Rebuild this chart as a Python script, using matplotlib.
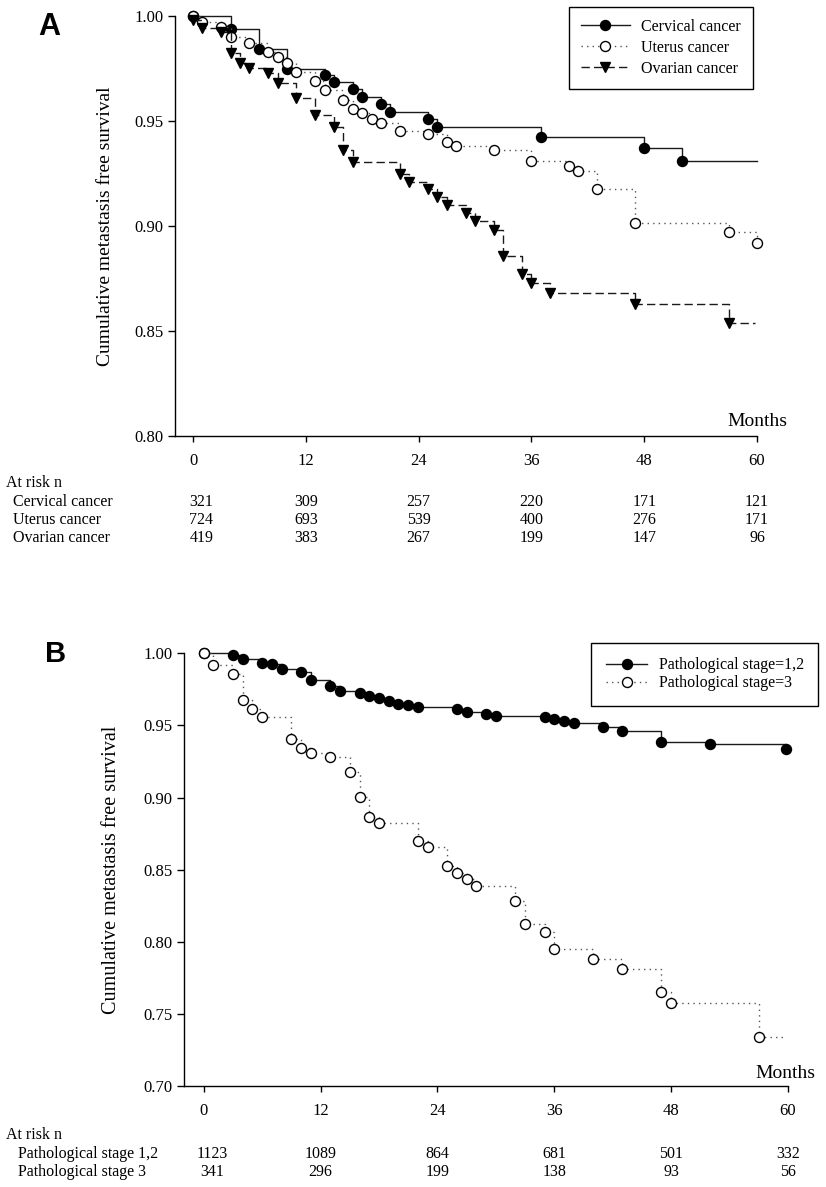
import matplotlib
matplotlib.use("Agg")
import matplotlib.pyplot as plt
from matplotlib import transforms

# -----------------------------
# Data
# -----------------------------
# Panel A: times (months) of the steps and survival after each step
cerv_t = [0, 4, 7, 10, 14, 15, 17, 18, 20, 21, 25, 26, 37, 48, 52]
cerv_s = [1.0, 0.9937, 0.9841, 0.9746, 0.9719, 0.9687, 0.9651, 0.9616,
          0.9581, 0.9541, 0.9510, 0.9471, 0.9422, 0.9370, 0.9310]
cerv_end = 60

uter_t = [0, 1, 3, 4, 6, 8, 9, 10, 11, 13, 14, 16, 17, 18, 19, 20, 22,
          25, 27, 28, 32, 36, 40, 41, 43, 47, 57, 60]
uter_s = [1.0, 0.9973, 0.9949, 0.9902, 0.9873, 0.9830, 0.9806, 0.9775,
          0.9735, 0.9690, 0.9648, 0.9600, 0.9556, 0.9537, 0.9508, 0.9489,
          0.9454, 0.9437, 0.9400, 0.9380, 0.9360, 0.9311, 0.9286, 0.9260,
          0.9175, 0.9016, 0.8970, 0.8918]
uter_end = 60

ovar_t = [0, 1, 3, 4, 5, 6, 8, 9, 11, 13, 15, 16, 17, 22, 23, 25, 26, 27,
          29, 30, 32, 33, 35, 36, 38, 47, 57]
ovar_s = [0.9981, 0.9941, 0.9922, 0.9822, 0.9778, 0.9751, 0.9727, 0.9680,
          0.9608, 0.9529, 0.9473, 0.9362, 0.9306, 0.9247, 0.9211, 0.9175,
          0.9138, 0.9102, 0.9063, 0.9023, 0.8982, 0.8857, 0.8771, 0.8727,
          0.8682, 0.8629, 0.8540]
ovar_end = 59.8

# Panel B
st12_t = [0, 3, 4, 6, 7, 8, 10, 11, 13, 14, 16, 17, 18, 19, 20, 21, 22,
          26, 27, 29, 30, 35, 36, 37, 38, 41, 43, 47, 52, 59.8]
st12_s = [1.0, 0.9988, 0.9958, 0.9935, 0.9926, 0.9889, 0.9870, 0.9817,
          0.9776, 0.9741, 0.9727, 0.9704, 0.9692, 0.9671, 0.9648, 0.9639,
          0.9630, 0.9616, 0.9595, 0.9579, 0.9565, 0.9556, 0.9542, 0.9529,
          0.9515, 0.9491, 0.9463, 0.9387, 0.9371, 0.9336]
st12_end = 59.8

st3_t = [0, 1, 3, 4, 5, 6, 9, 10, 11, 13, 15, 16, 17, 18, 22, 23, 25, 26,
         27, 28, 32, 33, 35, 36, 40, 43, 47, 48, 57]
st3_s = [1.0, 0.9919, 0.9857, 0.9676, 0.9616, 0.9558, 0.9406, 0.9346,
         0.9311, 0.9279, 0.9179, 0.9002, 0.8863, 0.8826, 0.8701, 0.8659,
         0.8525, 0.8480, 0.8437, 0.8387, 0.8285, 0.8124, 0.8066, 0.7950,
         0.7883, 0.7811, 0.7654, 0.7573, 0.7338]
st3_end = 59.5

month_ticks = [0, 12, 24, 36, 48, 60]

risk_a_labels = ["Cervical cancer", "Uterus cancer", "Ovarian cancer"]
risk_a = [[321, 309, 257, 220, 171, 121],
          [724, 693, 539, 400, 276, 171],
          [419, 383, 267, 199, 147, 96]]

risk_b_labels = ["Pathological stage 1,2", "Pathological stage 3"]
risk_b = [[1123, 1089, 864, 681, 501, 332],
          [341, 296, 199, 138, 93, 56]]

ylabel = "Cumulative metastasis free survival"

# -----------------------------
# Figure layout (pixel based)
# -----------------------------
plt.rcParams["font.family"] = ["Liberation Serif", "DejaVu Serif"]
W, H = 826, 1187
fig = plt.figure(figsize=(W / 100, H / 100), dpi=100)

axA = fig.add_axes([175 / W, 1 - 436 / H, 582 / W, 420 / H])
axB = fig.add_axes([184 / W, 1 - 1086 / H, 604 / W, 432.7 / H])


def fy(py):
    return 1 - py / H


def km(ax, t, s, end, color, ls, marker, mfc, ms, label):
    x = list(t)
    y = list(s)
    if end > x[-1]:
        x.append(end)
        y.append(s[-1])
    ax.plot(x, y, drawstyle="steps-post", color=color, linestyle=ls, lw=1.0,
            marker=marker, markersize=ms, markerfacecolor=mfc,
            markeredgecolor="black", markeredgewidth=1.0,
            markevery=list(range(len(t))), clip_on=False, label=label)


def style(ax, ylo, yticks, ylab_x, ylab_size):
    ax.set_xlim(-(18 / 9.4) if ax is axA else -(19.7 / 9.738), 60)
    ax.set_ylim(ylo, 1.0)
    ax.set_xticks(month_ticks)
    ax.set_yticks(yticks)
    ax.set_yticklabels([f"{v:.2f}" for v in yticks])
    for side in ("top", "right"):
        ax.spines[side].set_visible(False)
    for side in ("left", "bottom"):
        ax.spines[side].set_linewidth(1.0)
    ax.tick_params(axis="y", direction="out", length=5, width=1.0, pad=3.5,
                   labelsize=12)
    ax.tick_params(axis="x", direction="out", length=4.5, width=1.0, pad=8,
                   labelsize=12)
    ax.set_ylabel(ylabel, fontsize=ylab_size)
    ax.yaxis.set_label_coords(ylab_x, 0.5)


# -----------------------------
# Panel A
# -----------------------------
km(axA, cerv_t, cerv_s, cerv_end, "#1a1a1a", "-", "o", "black", 7.2, "Cervical cancer")
km(axA, uter_t, uter_s, uter_end, "#555555", (0, (1, 3)), "o", "white", 7.2, "Uterus cancer")
km(axA, ovar_t, ovar_s, ovar_end, "#1a1a1a", (0, (6, 3)), "v", "black", 7.0, "Ovarian cancer")
style(axA, 0.80, [0.80, 0.85, 0.90, 0.95, 1.00], -0.105, 14)

legA = axA.legend(loc="upper right", bbox_to_anchor=(753 / W, fy(7)),
                  bbox_transform=fig.transFigure, fancybox=False,
                  edgecolor="black", fontsize=11.5, handlelength=3.1,
                  handletextpad=0.7, labelspacing=0.3, borderpad=0.75,
                  borderaxespad=0, framealpha=1)
legA.get_frame().set_linewidth(1.0)

axA.text(1.0515, 0.034, "Months", transform=axA.transAxes, ha="right",
         va="center", fontsize=14)
fig.text(49 / W, fy(27), "A", family="Liberation Sans", weight="bold",
         fontsize=22, ha="center", va="center")

# -----------------------------
# Panel B
# -----------------------------
km(axB, st12_t, st12_s, st12_end, "#1a1a1a", "-", "o", "black", 7.2, "Pathological stage=1,2")
km(axB, st3_t, st3_s, st3_end, "#555555", (0, (1, 3)), "o", "white", 7.2, "Pathological stage=3")
style(axB, 0.70, [0.70, 0.75, 0.80, 0.85, 0.90, 0.95, 1.00], -0.104, 14.5)

legB = axB.legend(loc="upper right", bbox_to_anchor=(818 / W, fy(643)),
                  bbox_transform=fig.transFigure, fancybox=False,
                  edgecolor="black", fontsize=11.5, handlelength=2.6,
                  handletextpad=0.7, labelspacing=0.12, borderpad=0.9,
                  borderaxespad=0, framealpha=1)
legB.get_frame().set_linewidth(1.0)

axB.text(1.0447, 0.030, "Months", transform=axB.transAxes, ha="right",
         va="center", fontsize=14)
fig.text(56 / W, fy(654), "B", family="Liberation Sans", weight="bold",
         fontsize=21, ha="center", va="center")

# -----------------------------
# Numbers at risk
# -----------------------------
def at_risk(ax, head_y, row_ys, labels, rows, label_x):
    tr = transforms.blended_transform_factory(ax.transData, fig.transFigure)
    fig.text(6 / W, fy(head_y), "At risk n", fontsize=11.5, va="center")
    for lab, vals, py in zip(labels, rows, row_ys):
        fig.text(label_x / W, fy(py), lab, fontsize=11.5, va="center")
        for i, (m, v) in enumerate(zip(month_ticks, vals)):
            xm = m + 0.9 if i == 0 else m
            ax.text(xm, fy(py), str(v), transform=tr, fontsize=11.5,
                    ha="center", va="center")


at_risk(axA, 483, [502, 520, 538], risk_a_labels, risk_a, 13)
at_risk(axB, 1135, [1154, 1172], risk_b_labels, risk_b, 18)

fig.savefig("out.png", dpi=100)
